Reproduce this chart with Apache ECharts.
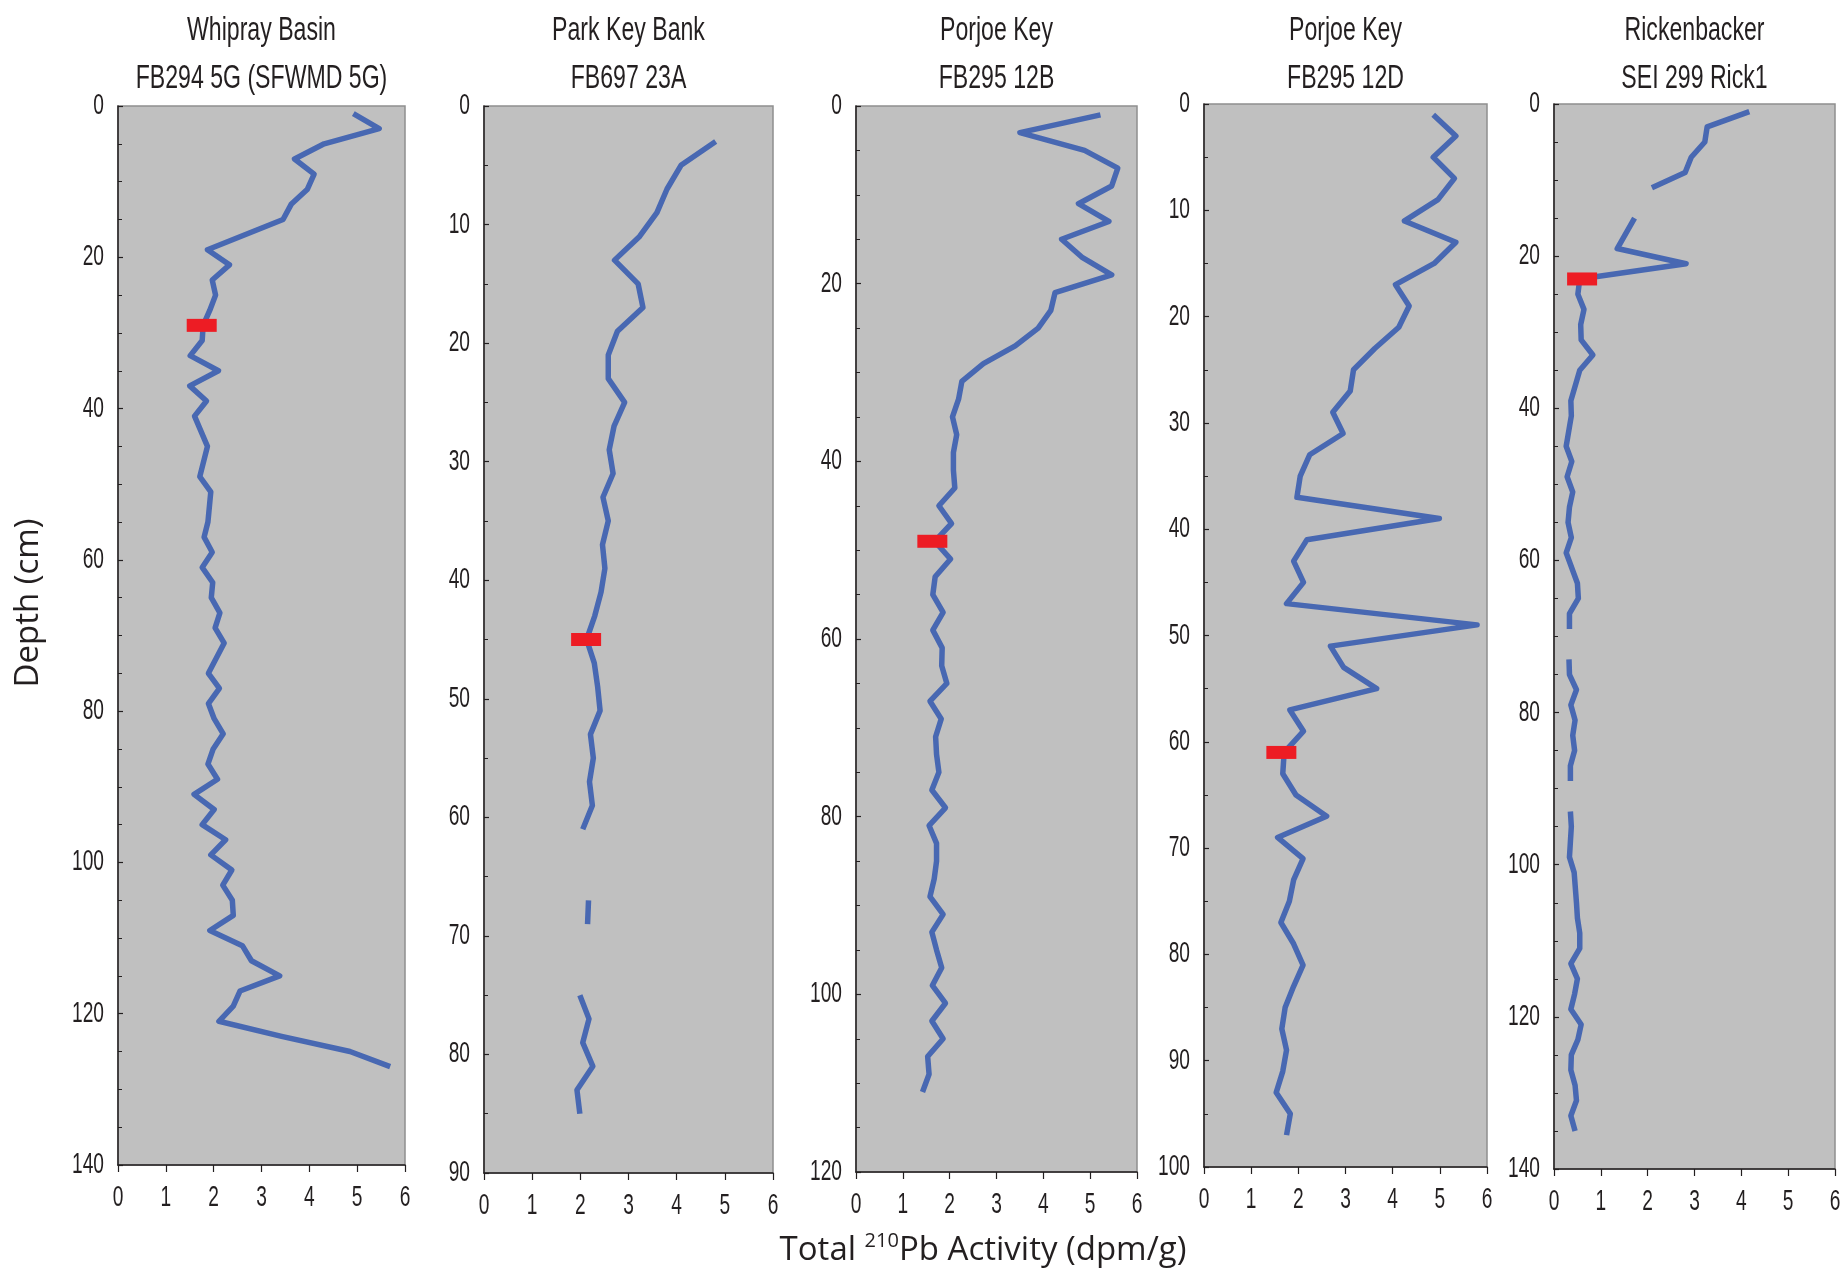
<!DOCTYPE html>
<html>
<head>
<meta charset="utf-8">
<script src="https://cdn.jsdelivr.net/npm/echarts@6/dist/echarts.min.js"></script>
<style>
  html, body { margin: 0; padding: 0; background: #ffffff; }
  #chart { width: 1845px; height: 1269px; }
</style>
</head>
<body>
<div id="chart"></div>
<script>
// Total 210Pb activity (dpm/g) against core depth (cm) for five sediment cores.
// null marks a depth with no measurement (the profile line breaks there).

// Whipray Basin, FB294 5G (SFWMD 5G)
const whiprayDepth = [1,3,5,7,9,11,13,15,19,21,23,25,27,29,31,33,35,37,39,41,45,49,51,55,57,59,61,63,65,67,69,71,75,77,79,81,83,85,87,89,91,93,95,97,99,101,103,105,107,109,111,113,115,117,119,121,123,125,127];
const whiprayPb = [4.92,5.46,4.31,3.69,4.10,3.96,3.62,3.45,1.87,2.33,1.97,2.04,1.92,1.78,1.76,1.51,2.10,1.50,1.85,1.60,1.87,1.71,1.94,1.88,1.80,1.97,1.76,1.98,1.95,2.13,2.03,2.22,1.89,2.12,1.89,2.01,2.20,1.99,1.88,2.08,1.59,2.01,1.76,2.25,1.94,2.38,2.19,2.39,2.41,1.92,2.60,2.79,3.38,2.55,2.41,2.11,3.42,4.85,5.69];
const whiprayMarker = [1.75, 29];

// Park Key Bank, FB697 23A
const parkDepth = [3,5,7,9,11,13,15,17,19,21,23,25,27,29,31,33,35,37,39,41,43,45,47,49,51,53,55,57,59,61,63,67,69,71,75,77,79,81,83,85];
const parkPb = [4.81,4.09,3.80,3.59,3.23,2.71,3.20,3.30,2.77,2.58,2.58,2.92,2.70,2.60,2.68,2.47,2.58,2.46,2.51,2.43,2.30,2.13,2.29,2.36,2.41,2.21,2.27,2.19,2.25,2.05,null,2.17,2.15,null,1.99,2.18,2.05,2.26,1.93,1.99];
const parkMarker = [2.12, 45];

// Porjoe Key, FB295 12B
const porjoeBDepth = [1,3,5,7,9,11,13,15,17,19,21,23,25,27,29,31,33,35,37,39,41,43,45,47,49,51,53,55,57,59,61,63,65,67,69,71,73,75,77,79,81,83,85,87,89,91,93,95,97,99,101,103,105,107,109,111];
const porjoeBPb = [5.22,3.50,4.88,5.59,5.46,4.75,5.40,4.39,4.82,5.46,4.25,4.16,3.89,3.40,2.72,2.26,2.19,2.06,2.15,2.08,2.08,2.11,1.77,2.04,1.68,2.02,1.69,1.64,1.86,1.64,1.84,1.83,1.94,1.58,1.82,1.70,1.72,1.77,1.62,1.91,1.56,1.72,1.72,1.67,1.58,1.86,1.62,1.72,1.83,1.63,1.91,1.62,1.86,1.53,1.56,1.42];
const porjoeBMarker = [1.63, 49];

// Porjoe Key, FB295 12D
const porjoeDDepth = [1,3,5,7,9,11,13,15,17,19,21,23,25,27,29,31,33,35,37,39,41,43,45,47,49,51,53,55,57,59,61,63,65,67,69,71,73,75,77,79,81,83,85,87,89,91,93,95,97];
const porjoeDPb = [4.86,5.34,4.86,5.31,4.96,4.25,5.34,4.88,4.06,4.35,4.13,3.62,3.17,3.10,2.73,2.95,2.24,2.04,1.97,4.99,2.18,1.90,2.11,1.75,5.79,2.68,2.96,3.66,1.82,2.11,1.70,1.67,1.95,2.60,1.56,2.10,1.90,1.81,1.63,1.90,2.10,1.90,1.72,1.65,1.75,1.67,1.53,1.83,1.75];
const porjoeDMarker = [1.64, 61];

// Rickenbacker, SEI 299 Rick1
const rickDepth = [1,3,5,7,9,11,13,15,19,21,23,25,27,29,31,33,35,39,41,45,47,49,51,53,55,57,59,63,65,67,69,71,73,75,77,79,81,83,85,87,89,91,93,95,99,101,105,107,109,111,113,115,117,119,121,123,125,127,129,131,133,135];
const rickPb = [4.17,3.27,3.22,2.93,2.80,2.09,null,1.72,1.35,2.82,0.55,0.51,0.64,0.57,0.58,0.83,0.55,0.36,0.37,0.26,0.38,0.28,0.40,0.33,0.30,0.37,0.26,0.50,0.52,0.33,0.33,null,0.32,0.33,0.48,0.36,0.45,0.40,0.44,0.35,0.35,null,0.35,0.37,0.33,0.43,0.48,0.50,0.55,0.55,0.36,0.50,0.44,0.36,0.58,0.51,0.37,0.36,0.45,0.48,0.36,0.45];
const rickMarker = [0.60, 23];

// Panel titles (two lines each)
const titleLine1 = ['Whipray Basin', 'Park Key Bank', 'Porjoe Key', 'Porjoe Key', 'Rickenbacker'];
const titleLine2 = ['FB294 5G (SFWMD 5G)', 'FB697 23A', 'FB295 12B', 'FB295 12D', 'SEI 299 Rick1'];

// Depth tick labels of each panel, and minor tick subdivisions between them
const whiprayDepthTicks = [0, 20, 40, 60, 80, 100, 120, 140];
const parkDepthTicks = [0, 10, 20, 30, 40, 50, 60, 70, 80, 90];
const porjoeBDepthTicks = [0, 20, 40, 60, 80, 100, 120];
const porjoeDDepthTicks = [0, 10, 20, 30, 40, 50, 60, 70, 80, 90, 100];
const rickDepthTicks = [0, 20, 40, 60, 80, 100, 120, 140];
const depthMinorSplit = [4, 2, 4, 2, 4];

// Activity tick labels (shared by all panels)
const activityTicks = [0, 1, 2, 3, 4, 5, 6];

const cores = [
  { depth: whiprayDepth, pb: whiprayPb, marker: whiprayMarker, ticks: whiprayDepthTicks },
  { depth: parkDepth, pb: parkPb, marker: parkMarker, ticks: parkDepthTicks },
  { depth: porjoeBDepth, pb: porjoeBPb, marker: porjoeBMarker, ticks: porjoeBDepthTicks },
  { depth: porjoeDDepth, pb: porjoeDPb, marker: porjoeDMarker, ticks: porjoeDDepthTicks },
  { depth: rickDepth, pb: rickPb, marker: rickMarker, ticks: rickDepthTicks }
];

// Plot boxes in pixels
const boxes = [
  { left: 118,  top: 106, width: 287, height: 1059 },
  { left: 484,  top: 106, width: 289, height: 1067 },
  { left: 856,  top: 106, width: 281, height: 1066 },
  { left: 1204, top: 104, width: 283, height: 1063 },
  { left: 1554, top: 104, width: 281, height: 1065 }
];

// Condensed lettering: Liberation Sans squeezed horizontally
const condensedFamily = "'Liberation Sans', Arial, sans-serif";
const titleScale = 0.70;
const tickScale = 0.66;
const humanistFamily = "'Open Sans', 'Noto Sans', sans-serif";
const ink = '#231f20';
const lineBlue = '#4868b2';
const markerRed = '#ed1c24';

const grids = [], xAxes = [], yAxes = [], series = [];

cores.forEach(function (core, i) {
  const b = boxes[i];
  const t = core.ticks;
  grids.push({
    left: b.left, top: b.top, width: b.width, height: b.height,
    show: true, backgroundColor: '#c0c0c0', borderColor: '#8f8f8f', borderWidth: 1.5
  });
  xAxes.push({
    gridIndex: i, type: 'value',
    min: activityTicks[0], max: activityTicks[activityTicks.length - 1],
    interval: activityTicks[1] - activityTicks[0],
    axisLine: { show: true, onZero: false, lineStyle: { color: ink, width: 1.5 } },
    axisTick: { show: true, length: 7, lineStyle: { color: ink, width: 1.2 } },
    axisLabel: { show: false },
    splitLine: { show: false }
  });
  yAxes.push({
    gridIndex: i, type: 'value', inverse: true,
    min: t[0], max: t[t.length - 1], interval: t[1] - t[0],
    axisLine: { show: true, onZero: false, lineStyle: { color: ink, width: 1.5 } },
    axisTick: { show: true, inside: true, length: 5, lineStyle: { color: ink, width: 1.2 } },
    minorTick: { show: true, splitNumber: depthMinorSplit[i], length: 4, lineStyle: { color: ink, width: 1 } },
    axisLabel: { show: false },
    splitLine: { show: false }, minorSplitLine: { show: false }
  });
  const pts = core.depth.map(function (d, k) {
    const v = core.pb[k];
    return [v === null ? '-' : v, d];
  });
  series.push({
    type: 'line', xAxisIndex: i, yAxisIndex: i, data: pts,
    showSymbol: false, connectNulls: false, silent: true, z: 2,
    lineStyle: { color: lineBlue, width: 5.5, cap: 'butt', join: 'round' }
  });
  series.push({
    type: 'scatter', xAxisIndex: i, yAxisIndex: i, data: [core.marker],
    symbol: 'rect', symbolSize: [30, 13], silent: true, z: 5,
    itemStyle: { color: markerRed, opacity: 1 }
  });
});

const chart = echarts.init(document.getElementById('chart'), null, { renderer: 'canvas' });
chart.setOption({
  animation: false,
  backgroundColor: '#ffffff',
  grid: grids,
  xAxis: xAxes,
  yAxis: yAxes,
  series: series
});

// Condensed text helper
function condensedText(x, y, text, size, align, scale) {
  return {
    type: 'text', x: x, y: y, scaleX: scale, silent: true,
    style: {
      text: text, font: size + 'px ' + condensedFamily, fill: ink,
      textAlign: align, textVerticalAlign: 'middle'
    }
  };
}

const graphics = [];
cores.forEach(function (core, i) {
  const b = boxes[i];
  const cx = b.left + b.width / 2;
  graphics.push(condensedText(cx, 31, titleLine1[i], 33, 'center', titleScale));
  graphics.push(condensedText(cx, 79, titleLine2[i], 33, 'center', titleScale));
  const dMax = core.ticks[core.ticks.length - 1];
  // depth labels left of the depth axis
  core.ticks.forEach(function (v) {
    const p = chart.convertToPixel({ gridIndex: i }, [activityTicks[0], v]);
    graphics.push(condensedText(p[0] - 14, p[1], String(v), 29, 'right', tickScale));
  });
  // activity labels under the activity axis
  activityTicks.forEach(function (v) {
    const p = chart.convertToPixel({ gridIndex: i }, [v, dMax]);
    graphics.push(condensedText(p[0], p[1] + 33, String(v), 29, 'center', tickScale));
  });
});

// Shared axis titles
graphics.push({
  type: 'text', x: 29, y: 603, rotation: Math.PI / 2, silent: true,
  style: { text: 'Depth (cm)', font: '33px ' + humanistFamily, fill: ink, textAlign: 'center', textVerticalAlign: 'middle' }
});
graphics.push({
  type: 'text', x: 983, y: 1251, silent: true,
  style: {
    text: '{a|Total }{s|210}{a|Pb Activity (dpm/g)}',
    textAlign: 'center', textVerticalAlign: 'middle', fill: ink,
    rich: {
      a: { fontFamily: humanistFamily, fontSize: 33, lineHeight: 40, fill: ink, color: ink },
      s: { fontFamily: humanistFamily, fontSize: 20, lineHeight: 20, verticalAlign: 'top', fill: ink, color: ink }
    }
  }
});

chart.setOption({ graphic: graphics });
</script>
</body>
</html>
